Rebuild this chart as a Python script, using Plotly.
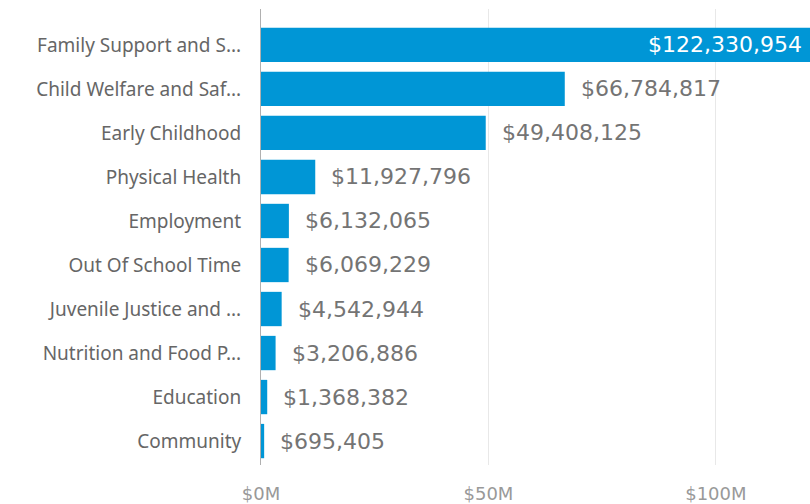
import plotly.graph_objects as go

categories = ["Family Support and S...", "Child Welfare and Saf...", "Early Childhood",
              "Physical Health", "Employment", "Out Of School Time",
              "Juvenile Justice and ...", "Nutrition and Food P...", "Education", "Community"]
values = [122330954, 66784817, 49408125, 11927796, 6132065, 6069229,
          4542944, 3206886, 1368382, 695405]
tick_vals = [0, 50e6, 100e6]
tick_text = ["$0M", "$50M", "$100M"]

x_max = 120.7e6
cats = categories[::-1]
vals = values[::-1]

fig = go.Figure(go.Bar(
    x=vals, y=cats, orientation="h",
    marker=dict(color="#0096D6", line=dict(width=0)),
    width=0.78, hoverinfo="skip",
))

annotations = []
for c, v in zip(cats, vals):
    label = "${:,}".format(v)
    if v > x_max:
        annotations.append(dict(x=x_max, y=c, xref="x", yref="y", text=label,
                                showarrow=False, xanchor="right", xshift=-6,
                                font=dict(family="DejaVu Sans", size=22, color="#ffffff")))
    else:
        annotations.append(dict(x=v, y=c, xref="x", yref="y", text=label,
                                showarrow=False, xanchor="left", xshift=14,
                                font=dict(family="DejaVu Sans", size=22, color="#747474")))

fig.update_layout(
    width=810, height=504,
    margin=dict(l=261, r=0, t=9, b=39),
    plot_bgcolor="white", paper_bgcolor="white",
    showlegend=False,
    annotations=annotations,
    xaxis=dict(range=[0, x_max], tickvals=tick_vals, ticktext=tick_text,
               showgrid=True, gridcolor="#e8e8e8", gridwidth=1, zeroline=False,
               showline=False, ticks="", ticklabelstandoff=16, automargin=False,
               tickfont=dict(family="DejaVu Sans", size=18, color="#999999")),
    yaxis=dict(range=[-0.544, 9.816], showline=True, linecolor="#b0b0b0", linewidth=1,
               showgrid=False, zeroline=False, ticks="", ticklabelstandoff=15,
               automargin=False,
               tickfont=dict(family="Noto Sans", size=19, color="#666666")),
)

fig.write_html("out.html",
               config={"displayModeBar": False},
               post_script="document.body.style.margin='0';document.body.style.overflow='hidden';")
